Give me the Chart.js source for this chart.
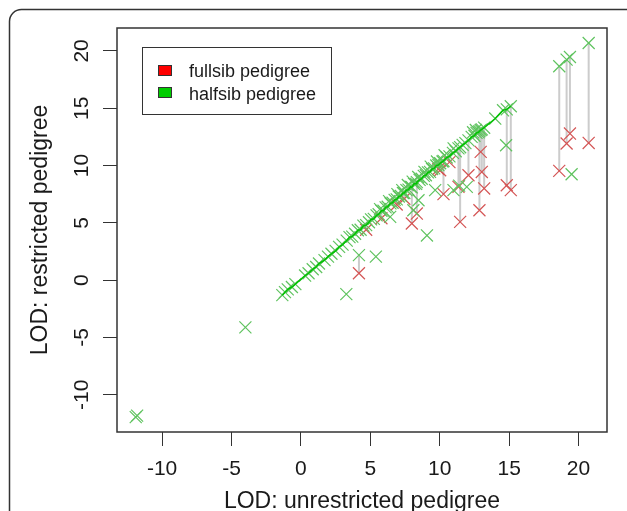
<!DOCTYPE html>
<html lang="en">
<head>
<meta charset="UTF-8">
<title>LOD: restricted vs unrestricted pedigree</title>
<style>
  html, body { margin: 0; padding: 0; background: #fff; }
  #wrap { width: 627px; height: 511px; }
</style>
</head>
<body>
<div id="wrap"><canvas id="lodChart" width="627" height="511"></canvas></div>
<script src="https://cdn.jsdelivr.net/npm/chart.js"></script>
<script>
// one entry per locus: unrestricted LOD (x), restricted LOD for each pedigree (y)
const lodUnrestricted = [
  -11.9, -11.8, -4.0, -1.34, -1.15, -0.95, -0.65, -0.4, 0.3, 0.55,
  0.85, 1.1, 1.3, 1.7, 1.95, 2.2, 2.5, 2.75, 3.0, 3.27,
  3.3, 3.5, 3.7, 3.9, 4.1, 4.18, 4.3, 4.5, 4.7, 4.9,
  5.05, 5.25, 5.4, 5.45, 5.6, 5.8, 5.95, 6.1, 6.25, 6.43,
  6.45, 6.6, 6.75, 6.9, 7.05, 7.2, 7.35, 7.45, 7.6, 7.75,
  7.9, 7.99, 8.1, 8.15, 8.3, 8.35, 8.47, 8.55, 8.7, 8.85,
  9.0, 9.08, 9.15, 9.3, 9.45, 9.6, 9.67, 9.75, 9.9, 10.03,
  10.2, 10.27, 10.5, 10.7, 10.95, 10.99, 11.15, 11.35, 11.4, 11.47,
  11.65, 11.85, 11.95, 12.07, 12.3, 12.5, 12.65, 12.8, 12.86, 12.95,
  13.03, 13.2, 14.0, 14.56, 14.78, 14.83, 15.12, 18.61, 19.14, 19.38,
  19.5, 20.73,
  5.7, 6.35, 6.95, 7.3, 7.7, 8.05, 8.45, 8.9, 9.35, 9.8,
  10.35, 11.0, 12.4, 12.6
];
const lodHalfsib = [
  -11.95, -11.82, -4.12, -1.31, -1.05, -0.8, -0.6, -0.35, 0.4, 0.6,
  0.95, 1.15, 1.45, 1.75, 2.05, 2.3, 2.55, 2.9, 3.1, -1.22,
  3.45, 3.75, 3.8, 4.05, 4.35, 2.18, 4.4, 4.75, 4.8, 5.05,
  5.3, 5.35, 2.05, 5.65, 5.75, 6.05, 6.05, 6.35, 6.4, 5.52,
  6.7, 6.75, 7.0, 7.05, 7.3, 7.35, 7.6, 7.6, 7.85, 7.9,
  8.15, 8.1, 6.1, 8.4, 8.4, 8.55, 6.97, 8.75, 8.85, 9.1,
  9.15, 3.9, 9.4, 9.45, 9.7, 9.75, 7.85, 10.0, 10.05, 10.2,
  10.35, 10.4, 10.7, 10.8, 11.1, 7.85, 11.25, 11.5, 8.25, 11.6,
  11.8, 11.95, 8.14, 12.2, 12.5, 12.6, 12.85, 12.9, 13.0, 13.1,
  13.15, 13.3, 14.1, 14.82, 11.77, 14.9, 15.17, 18.66, 19.24, 19.47,
  9.24, 20.69,
  6.2, 6.9, 7.5, 7.85, 8.3, 8.6, 9.0, 9.45, 9.9, 10.35,
  10.9, 11.5, 12.9, 13.1
];
const lodFullsib = [
  -11.95, -11.82, -4.12, -1.31, -1.05, -0.8, -0.6, -0.35, 0.4, 0.6,
  0.95, 1.15, 1.45, 1.75, 2.05, 2.3, 2.55, 2.9, 3.1, -1.22,
  3.45, 3.75, 3.8, 4.05, 4.35, 0.6, 4.4, 4.75, 4.4, 5.05,
  5.3, 5.35, 2.05, 5.65, 5.75, 5.4, 6.05, 6.35, 6.4, 5.52,
  6.7, 6.75, 7.0, 6.6, 7.3, 7.35, 7.6, 7.1, 7.85, 7.9,
  8.15, 4.94, 6.1, 8.4, 8.4, 5.81, 6.97, 8.75, 8.85, 9.1,
  9.15, 3.9, 9.4, 9.45, 9.7, 9.75, 7.85, 10.0, 9.7, 9.59,
  10.35, 7.5, 10.7, 10.3, 11.1, 7.85, 11.25, 8.14, 8.25, 5.08,
  11.8, 11.95, 8.14, 9.15, 12.5, 12.6, 12.85, 12.9, 6.1, 11.19,
  9.44, 8.0, 14.1, 14.82, 11.77, 8.28, 7.85, 9.53, 11.92, 12.79,
  9.24, 11.97,
  6.2, 6.9, 7.5, 7.85, 8.3, 8.6, 9.0, 9.45, 9.9, 10.35,
  10.9, 11.5, 12.9, 13.1
];

const xTicks = [-10, -5, 0, 5, 10, 15, 20];
const yTicks = [-10, -5, 0, 5, 10, 15, 20];
const legendLabels = ['fullsib pedigree', 'halfsib pedigree'];
const legendColors = ['#ff0000', '#00cd00'];

const FONT = '"Liberation Sans", Arial, sans-serif';

const halfsibPoints = lodUnrestricted.map((x, i) => ({ x: x, y: lodHalfsib[i] }));
// fullsib marks that sit exactly under a halfsib mark are hidden anyway
const fullsibPoints = lodUnrestricted
  .map((x, i) => ({ x: x, y: lodFullsib[i], same: Math.abs(lodFullsib[i] - lodHalfsib[i]) < 0.05 }))
  .filter(p => !p.same);

// grey segments joining the two pedigrees where they differ
const linkPoints = [];
lodUnrestricted.forEach((x, i) => {
  if (Math.abs(lodHalfsib[i] - lodFullsib[i]) > 0.05) {
    linkPoints.push({ x: x, y: lodHalfsib[i] }, { x: x, y: lodFullsib[i] }, { x: x, y: null });
  }
});

// green trace through the halfsib points lying on the diagonal
const diagPoints = halfsibPoints
  .filter(p => p.x > -2 && p.x < 16 && Math.abs(p.y - p.x) < 0.3)
  .sort((a, b) => a.x - b.x);

const framePlugin = {
  id: 'frame',
  beforeDraw(chart) {
    const c = chart.ctx;
    c.save();
    c.fillStyle = '#fff';
    c.fillRect(0, 0, chart.width, chart.height);
    c.strokeStyle = '#333';
    c.lineWidth = 1.5;
    c.beginPath();
    c.roundRect(9.5, 9.5, 720, 620, 12);
    c.stroke();
    c.restore();
  },
  afterDraw(chart) {
    const c = chart.ctx;
    const a = chart.chartArea;
    const xs = chart.scales.x, ys = chart.scales.y;
    c.save();
    c.strokeStyle = '#333';
    c.lineWidth = 1.5;
    c.strokeRect(a.left, a.top, a.right - a.left, a.bottom - a.top);

    c.fillStyle = '#1a1a1a';
    c.font = '21px ' + FONT;
    c.textAlign = 'center';
    c.textBaseline = 'alphabetic';
    xTicks.forEach(v => c.fillText(String(v), xs.getPixelForValue(v), 475));
    yTicks.forEach(v => {
      c.save();
      c.translate(87.5, ys.getPixelForValue(v));
      c.rotate(-Math.PI / 2);
      c.fillText(String(v), 0, 0);
      c.restore();
    });

    c.font = '23px ' + FONT;
    c.fillText('LOD: unrestricted pedigree', (a.left + a.right) / 2, 508);
    c.save();
    c.translate(47, (a.top + a.bottom) / 2);
    c.rotate(-Math.PI / 2);
    c.fillText('LOD: restricted pedigree', 0, 0);
    c.restore();

    // legend
    c.lineWidth = 1;
    c.strokeStyle = '#333';
    c.strokeRect(142.5, 47.5, 189, 67);
    c.font = '18px ' + FONT;
    c.textAlign = 'left';
    legendLabels.forEach((lab, i) => {
      const y = 65.5 + i * 22;
      c.fillStyle = legendColors[i];
      c.fillRect(158.5, y, 13, 10);
      c.strokeRect(158.5, y, 13, 10);
      c.fillStyle = '#1a1a1a';
      c.fillText(lab, 189, 77 + i * 22.5);
    });
    c.restore();
  }
};

const axisGrid = { display: true, drawOnChartArea: false, drawTicks: true, tickLength: 14, color: '#333', lineWidth: 1 };

const ctx = document.getElementById('lodChart').getContext('2d');
const chart = new Chart(ctx, {
  type: 'scatter',
  data: {
    datasets: [
      {
        label: 'halfsib pedigree',
        data: halfsibPoints,
        pointStyle: 'crossRot',
        pointRadius: 8.5,
        pointBorderWidth: 1.2,
        borderColor: 'rgb(95,195,95)',
        backgroundColor: 'rgba(0,0,0,0)',
        order: 1
      },
      {
        label: 'fullsib pedigree',
        data: fullsibPoints,
        pointStyle: 'crossRot',
        pointRadius: 8.5,
        pointBorderWidth: 1.2,
        borderColor: 'rgb(212,85,85)',
        backgroundColor: 'rgba(0,0,0,0)',
        order: 2
      },
      {
        label: 'diagonal',
        data: diagPoints,
        showLine: true,
        pointRadius: 0,
        borderColor: 'rgb(0,195,0)',
        borderWidth: 1.5,
        order: 0
      },
      {
        label: 'links',
        data: linkPoints,
        showLine: true,
        spanGaps: false,
        pointRadius: 0,
        borderColor: '#cccccc',
        borderWidth: 2,
        order: 4
      }
    ]
  },
  options: {
    responsive: false,
    animation: false,
    layout: { padding: { top: 28, right: 20, left: 0, bottom: 0 } },
    plugins: { legend: { display: false }, tooltip: { enabled: false } },
    scales: {
      x: {
        type: 'linear',
        min: -13.25,
        max: 22.05,
        afterBuildTicks: s => { s.ticks = xTicks.map(v => ({ value: v })); },
        afterFit: s => { s.height = 79; },
        ticks: { display: false },
        grid: axisGrid,
        border: { display: false }
      },
      y: {
        type: 'linear',
        min: -13.25,
        max: 22.0,
        afterBuildTicks: s => { s.ticks = yTicks.map(v => ({ value: v })); },
        afterFit: s => { s.width = 117; },
        ticks: { display: false },
        grid: axisGrid,
        border: { display: false }
      }
    }
  },
  plugins: [framePlugin]
});
</script>
</body>
</html>
